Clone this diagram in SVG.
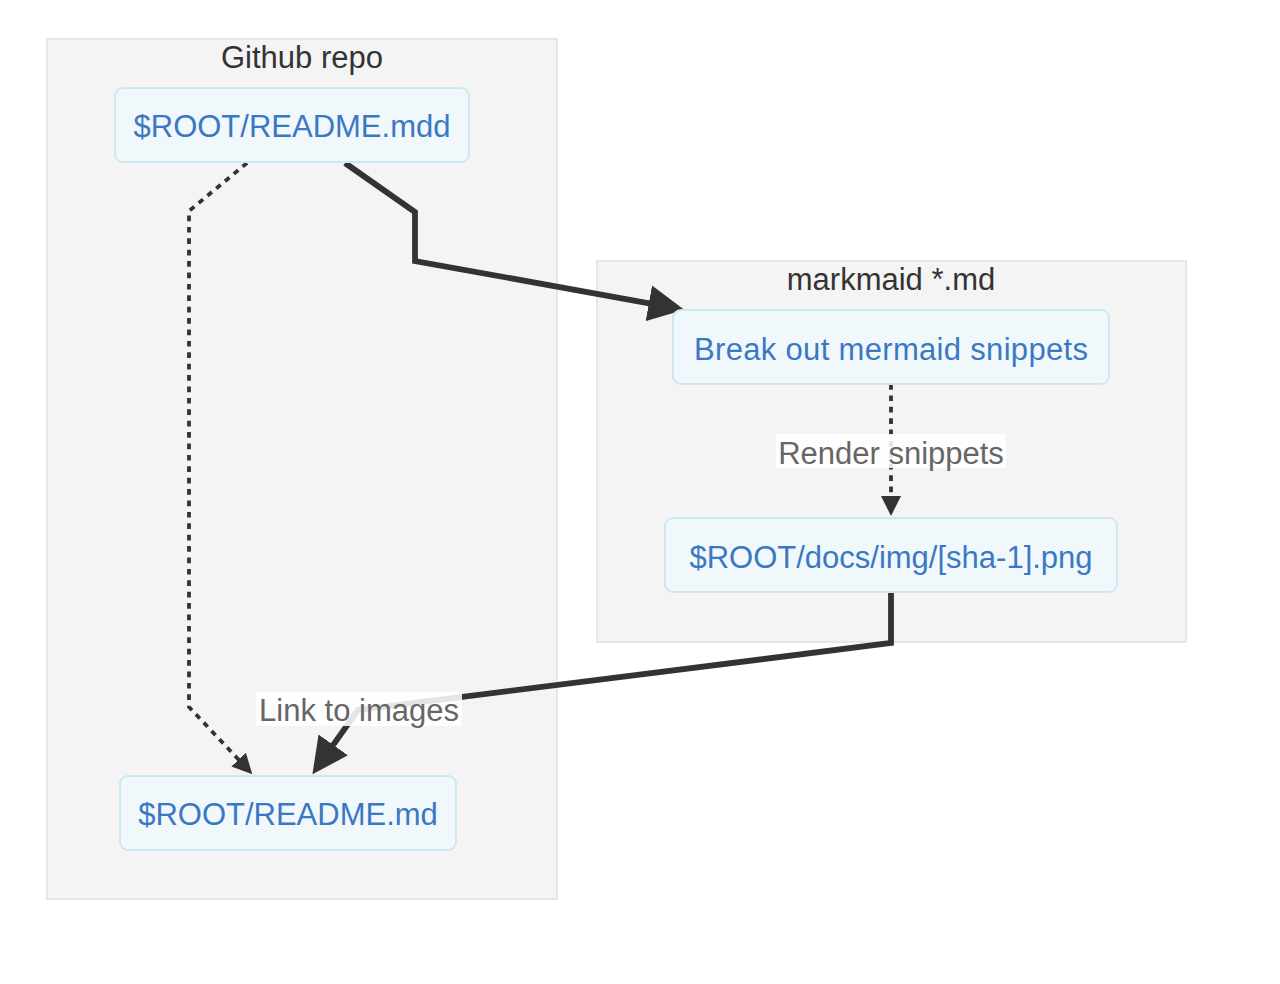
<svg xmlns="http://www.w3.org/2000/svg" width="1280" height="984" viewBox="0 0 1280 984">
<style>
  .cluster rect { fill: #f4f4f4; stroke: #e6e6e6; stroke-width: 2; }
  .cluster text { fill: #333333; font-family: "Liberation Sans", Arial, Helvetica, sans-serif; font-size: 31px; text-anchor: middle; }
  .node rect { fill: #f0f8fc; stroke: #cfe6f3; stroke-width: 2; }
  .node text { fill: #3b78c4; font-family: "Liberation Sans", Arial, Helvetica, sans-serif; font-size: 31px; text-anchor: middle; }
  .edge { fill: none; stroke: #333333; stroke-linejoin: miter; }
  .thick { stroke-width: 5.8; }
  .dotted { stroke-width: 3.8; stroke-dasharray: 5.7 5.7; }
  .elabel rect { fill: #ffffff; fill-opacity: 0.87; }
  .elabel text { fill: #666666; font-family: "Liberation Sans", Arial, Helvetica, sans-serif; font-size: 31px; text-anchor: middle; }
</style>
<defs>
  <marker id="arrowThick" viewBox="0 0 10 10" refX="0.5" refY="5" markerUnits="userSpaceOnUse" markerWidth="36" markerHeight="38" orient="auto">
    <path d="M0,0 L10,5 L0,10 z" fill="#333333"/>
  </marker>
  <marker id="arrowSmall" viewBox="0 0 10 10" refX="0.5" refY="5" markerUnits="userSpaceOnUse" markerWidth="20" markerHeight="22" orient="auto">
    <path d="M0,0 L10,5 L0,10 z" fill="#333333"/>
  </marker>
</defs>

<g id="cluster-github">
  <g class="cluster">
    <rect x="47" y="39" width="510" height="860"/>
    <text x="302" y="68">Github repo</text>
  </g>
</g>
<g id="cluster-markmaid">
  <g class="cluster">
    <rect x="597" y="261" width="589" height="381"/>
    <text x="891" y="290">markmaid *.md</text>
  </g>
</g>

<g id="connectors">
  <path class="edge dotted" d="M247,163 L189,211 L189,707 L239.3,760.4" marker-end="url(#arrowSmall)"/>
  <path class="edge thick" d="M345,163 L415,212 L415,261 L650.6,303.6" marker-end="url(#arrowThick)"/>
  <path class="edge dotted" d="M891,384 L891,497" marker-end="url(#arrowSmall)"/>
  <path class="edge thick" d="M891,592 L891,643 L358,710 L332.2,746.4" marker-end="url(#arrowThick)"/>
  <g class="elabel" id="label-render">
    <rect x="776" y="434" width="230" height="34"/>
    <text x="891" y="464">Render snippets</text>
  </g>
  <g class="elabel" id="label-link">
    <rect x="256" y="692" width="206" height="34"/>
    <text x="359" y="721">Link to images</text>
  </g>
</g>

<g id="node-readme-mdd" class="node">
  <rect x="115" y="88" width="354" height="74" rx="8" ry="8"/>
  <text x="292" y="137">$ROOT/README.mdd</text>
</g>
<g id="node-break-out" class="node">
  <rect x="673" y="310" width="436" height="74" rx="8" ry="8"/>
  <text x="891" y="360" textLength="394" lengthAdjust="spacing">Break out mermaid snippets</text>
</g>
<g id="node-docs-img" class="node">
  <rect x="665" y="518" width="452" height="74" rx="8" ry="8"/>
  <text x="891" y="568">$ROOT/docs/img/[sha-1].png</text>
</g>
<g id="node-readme-md" class="node">
  <rect x="120" y="776" width="336" height="74" rx="8" ry="8"/>
  <text x="288" y="825">$ROOT/README.md</text>
</g>
</svg>
